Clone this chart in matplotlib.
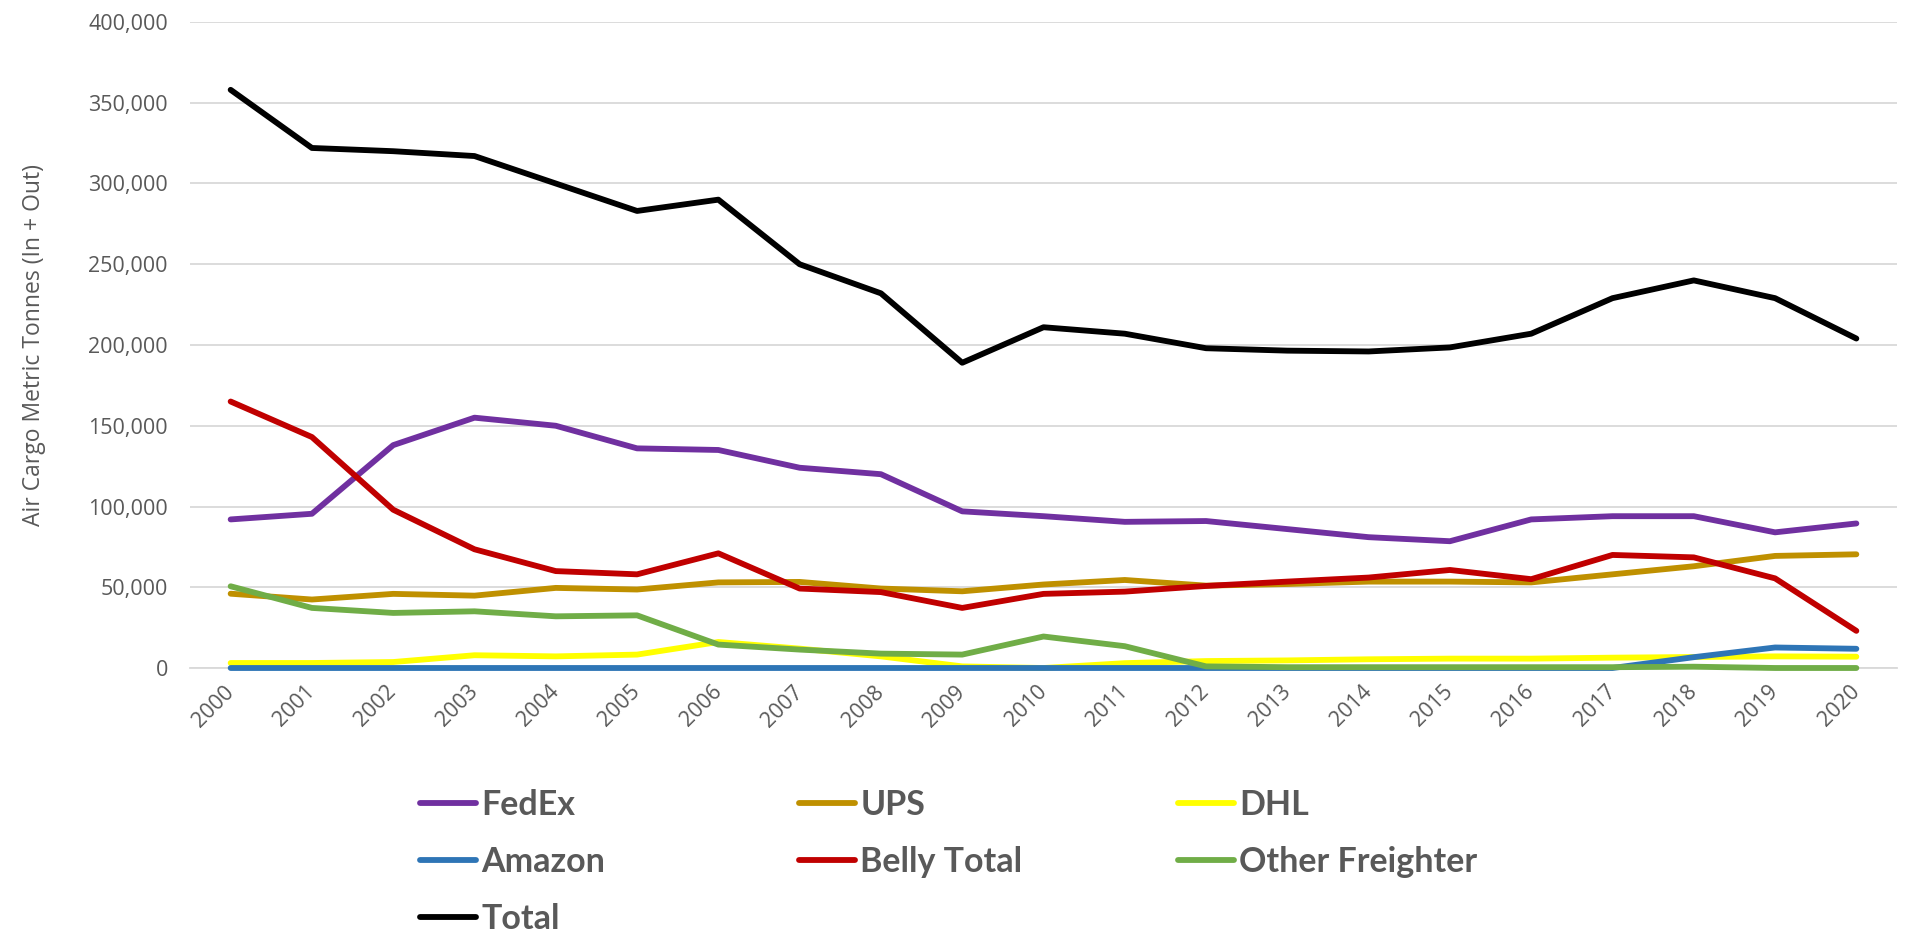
import matplotlib
matplotlib.use("Agg")
import matplotlib.pyplot as plt
from matplotlib.ticker import FuncFormatter

# ---------- data ----------
years = [str(y) for y in range(2000, 2021)]

fedex = [92000, 95500, 138000, 155000, 150000, 136000, 135000, 124000, 120000, 97000,
         94000, 90500, 91000, 86000, 81000, 78500, 92000, 94000, 94000, 84000, 89500]
ups = [46000, 42400, 45900, 44800, 49600, 48600, 53000, 53300, 49200, 47500,
       51700, 54500, 51000, 52000, 53500, 53500, 53000, 58000, 63000, 69400, 70400]
dhl = [3100, 3100, 3700, 7900, 7200, 8300, 16100, 12000, 7200, 1000,
       0, 3000, 4300, 4700, 5400, 5800, 5800, 6400, 6800, 7200, 7000]
amazon = [0, 0, 0, 0, 0, 0, 0, 0, 0, 0,
          0, 0, 0, 0, 0, 0, 0, 0, 6700, 12700, 11900]
belly = [165000, 143000, 98000, 73500, 60000, 58000, 71000, 49200, 47000, 37200,
         45900, 47300, 50800, 53500, 56000, 60700, 55000, 70000, 68500, 55500, 23000]
other = [50600, 37200, 34100, 35100, 32000, 32600, 14500, 11400, 8900, 8300,
         19500, 13500, 1000, 500, 500, 500, 500, 500, 800, 0, 0]
total = [358000, 322000, 320000, 317000, 300000, 283000, 290000, 250000, 232000, 189000,
         211000, 207000, 198000, 196500, 196000, 198500, 207000, 229000, 240000, 229000, 204000]

series = [
    ("FedEx", fedex, "#7030A0"),
    ("UPS", ups, "#BF9000"),
    ("DHL", dhl, "#FFFF00"),
    ("Amazon", amazon, "#2E75B6"),
    ("Belly Total", belly, "#C00000"),
    ("Other Freighter", other, "#70AD47"),
    ("Total", total, "#000000"),
]

TEXT = "#595959"

fig = plt.figure(figsize=(19.09, 9.33), dpi=100)
ax = fig.add_axes([190 / 1909, 1 - 668 / 933, (1897 - 190) / 1909, (668 - 22) / 933])

x = list(range(len(years)))
lines = {}
for name, vals, col in series:
    ln, = ax.plot(x, vals, color=col, lw=4.2, label=name, clip_on=False, zorder=3,
                  solid_joinstyle="round", solid_capstyle="round")
    lines[name] = ln

ax.set_xlim(-0.5, len(years) - 0.5)
ax.set_ylim(0, 400000)
ax.set_yticks(range(0, 400001, 50000))
ax.yaxis.set_major_formatter(FuncFormatter(lambda v, p: f"{int(v):,}"))
ax.set_xticks(x)
ax.set_xticklabels(years, rotation=45, ha="right", va="center", rotation_mode="anchor")

ax.grid(axis="y", color="#D9D9D9", lw=1.3)
ax.set_axisbelow(True)
for s in ["top", "right", "left"]:
    ax.spines[s].set_visible(False)
ax.spines["bottom"].set_color("#D9D9D9")
ax.spines["bottom"].set_linewidth(1.3)
ax.tick_params(length=0, colors=TEXT, labelsize=15.5)
ax.tick_params(axis="x", pad=15)
ax.tick_params(axis="y", pad=16)
for lab in ax.get_xticklabels() + ax.get_yticklabels():
    lab.set_fontfamily("Open Sans")

ax.set_ylabel("Air Cargo Metric Tonnes (In + Out)", fontsize=16.5, color=TEXT,
              fontfamily="Open Sans")
ax.yaxis.set_label_coords(-0.0844, 0.5)

# legend: three columns, each its own legend so the column pitch is even
columns = [["FedEx", "Amazon", "Total"], ["UPS", "Belly Total"], ["DHL", "Other Freighter"]]
col_x = [420, 799, 1178]
for names, cx in zip(columns, col_x):
    leg = fig.legend([lines[n] for n in names], names, loc="upper left",
                     bbox_to_anchor=(cx / 1909, 1 - 789 / 933), frameon=False,
                     borderpad=0, borderaxespad=0, handlelength=1.65, handletextpad=0.15,
                     labelspacing=0.74,
                     prop={"family": "Lato", "weight": "bold", "size": 24.5})
    for t in leg.get_texts():
        t.set_color(TEXT)

fig.savefig("out.png", dpi=100)
